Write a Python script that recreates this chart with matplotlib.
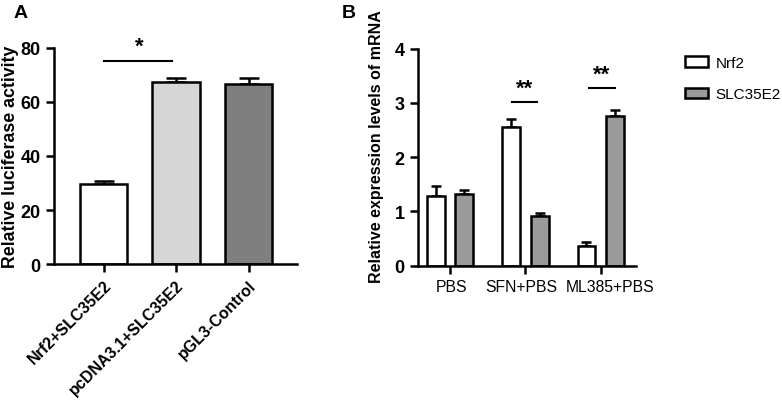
import numpy as np
import matplotlib
matplotlib.use("Agg")
import matplotlib.pyplot as plt
import matplotlib.transforms as mtrans

plt.rcParams['font.family'] = ['Liberation Sans', 'DejaVu Sans']

# panel A data
grupos_a = ["Nrf2+SLC35E2", "pcDNA3.1+SLC35E2", "pGL3-Control"]
luc = [29.5, 67.4, 66.7]
luc_err = [1.2, 1.5, 2.0]
colores_a = ["white", "#d6d6d6", "#7f7f7f"]

# panel B data
grupos_b = ["PBS", "SFN+PBS", "ML385+PBS"]
nrf2 = [1.28, 2.56, 0.36]
nrf2_err = [0.18, 0.15, 0.07]
slc = [1.33, 0.91, 2.76]
slc_err = [0.06, 0.07, 0.11]

fig = plt.figure(figsize=(7.82, 4.06), dpi=100)

# ---------------- A ----------------
axA = fig.add_axes([0.069, 0.347, 0.311, 0.533])
x = np.arange(len(grupos_a))
axA.bar(x, luc, width=0.65, color=colores_a, edgecolor="black", linewidth=1.8, zorder=2)
axA.errorbar(x, luc, yerr=[np.zeros(3), luc_err], fmt="none", ecolor="black",
             elinewidth=1.8, capsize=7, capthick=1.8, zorder=1)
axA.set_xlim(-0.683, 2.669)
axA.set_ylim(0, 80)
axA.set_yticks([0, 20, 40, 60, 80])
axA.set_xticks(x)
for s in ["top", "right"]:
    axA.spines[s].set_visible(False)
for s in ["left", "bottom"]:
    axA.spines[s].set_linewidth(1.8)
axA.tick_params(axis="both", width=1.8, length=6, labelsize=13)
axA.set_xticklabels(grupos_a, rotation=45, ha="right", rotation_mode="anchor",
                    fontsize=11.5, fontweight="bold")
for t in axA.get_yticklabels():
    t.set_fontweight("bold")
axA.plot([0, 0.95], [75, 75], color="black", lw=1.5)
axA.text(0.5, 76.5, "*", ha="center", va="bottom", fontsize=16, fontweight="bold")
fig.text(0.014, 0.613, "Relative luciferase activity", rotation=90,
         ha="center", va="center", fontsize=12.8, fontweight="bold")

# ---------------- B ----------------
axB = fig.add_axes([0.5345, 0.343, 0.279, 0.535])
xb = np.arange(len(grupos_b))
off = 0.19
w = 0.235
axB.bar(xb - off, nrf2, width=w, color="white", edgecolor="black", linewidth=1.8,
        zorder=2, label="Nrf2")
axB.bar(xb + off, slc, width=w, color="#9a9a9a", edgecolor="black", linewidth=1.8,
        zorder=2, label="SLC35E2")
axB.errorbar(xb - off, nrf2, yerr=[np.zeros(3), nrf2_err], fmt="none", ecolor="black",
             elinewidth=1.8, capsize=3.6, capthick=1.8, zorder=1)
axB.errorbar(xb + off, slc, yerr=[np.zeros(3), slc_err], fmt="none", ecolor="black",
             elinewidth=1.8, capsize=3.6, capthick=1.8, zorder=1)
axB.set_xlim(-0.425, 2.469)
axB.set_ylim(0, 4)
axB.set_yticks([0, 1, 2, 3, 4])
axB.set_xticks(xb)
for s in ["top", "right"]:
    axB.spines[s].set_visible(False)
for s in ["left", "bottom"]:
    axB.spines[s].set_linewidth(1.8)
axB.tick_params(axis="both", width=1.8, length=6, labelsize=13)
axB.set_xticklabels(grupos_b, fontsize=11.3)
for t in axB.get_yticklabels():
    t.set_fontweight("bold")
# small horizontal nudges so the labels sit like in the original
for t, dx in zip(axB.get_xticklabels(), [1, -4, 9]):
    t.set_transform(t.get_transform() + mtrans.ScaledTranslation(dx / 100, 0, fig.dpi_scale_trans))
axB.plot([1 - 0.18, 1 + 0.15], [3.02, 3.02], color="black", lw=1.5)
axB.text(1 - 0.015, 3.08, "**", ha="center", va="bottom", fontsize=16, fontweight="bold")
axB.plot([2 - 0.16, 2 + 0.19], [3.27, 3.27], color="black", lw=1.5)
axB.text(2 + 0.015, 3.33, "**", ha="center", va="bottom", fontsize=16, fontweight="bold")
fig.text(0.482, 0.64, "Relative expression levels of mRNA", rotation=90,
         ha="center", va="center", fontsize=11.5, fontweight="bold")

leg = axB.legend(loc="upper left", bbox_to_anchor=(1.16, 1.03), frameon=False,
                 fontsize=11, handlelength=1.5, handleheight=0.7, labelspacing=1.15,
                 handletextpad=0.5)

fig.text(0.017, 0.988, "A", ha="left", va="top", fontsize=14, fontweight="bold")
fig.text(0.437, 0.988, "B", ha="left", va="top", fontsize=14, fontweight="bold")

fig.savefig("out.png", dpi=100)
